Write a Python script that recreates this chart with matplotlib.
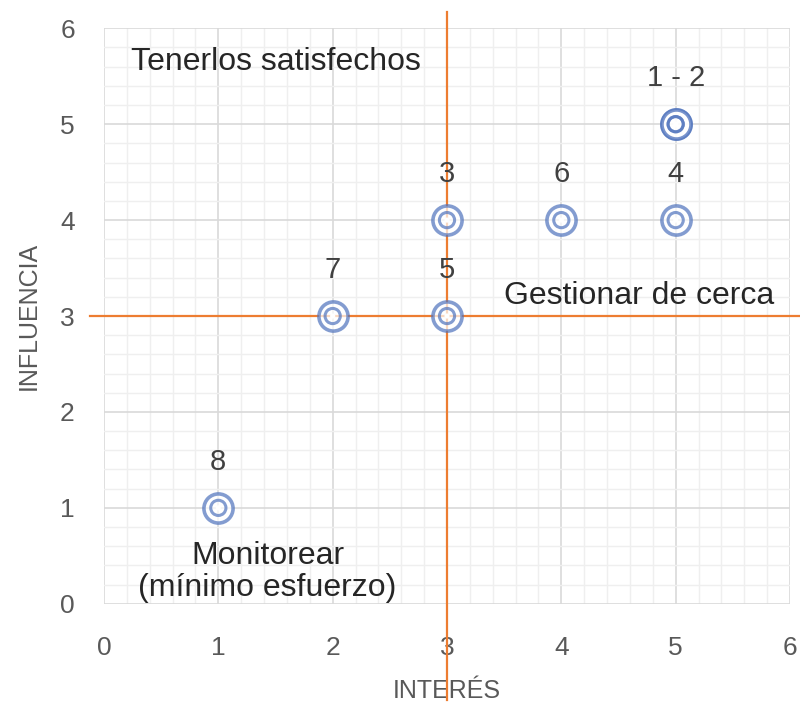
import matplotlib
matplotlib.use("Agg")
import matplotlib.pyplot as plt
from matplotlib.ticker import MultipleLocator

# --- data ---
interes    = [5, 5, 3, 5, 3, 4, 2, 1]
influencia = [5, 5, 4, 4, 3, 4, 3, 1]
# point labels (1 and 2 share a spot, so one combined label)
lbl_x = [5, 3, 5, 3, 4, 2, 1]
lbl_y = [5, 4, 4, 3, 4, 3, 1]
lbl_t = ["1 - 2", "3", "4", "5", "6", "7", "8"]

quad_t = ["Tenerlos satisfechos", "Gestionar de cerca", "Monitorear\n(mínimo esfuerzo)"]
quad_x = [1.5, 4.68, 1.43]
quad_y = [5.65, 3.21, 0.33]

MID = 3
BLUE = "#4f73bd"
ORANGE = "#ed7d31"

plt.rcParams["font.family"] = ["Liberation Sans", "DejaVu Sans"]

fig = plt.figure(figsize=(8.0, 7.07), dpi=100)
ax = fig.add_axes([0.13, 0.146, 0.8575, 0.814])

ax.set_xlim(0, 6)
ax.set_ylim(0, 6)
ax.xaxis.set_major_locator(MultipleLocator(1))
ax.yaxis.set_major_locator(MultipleLocator(1))
ax.xaxis.set_minor_locator(MultipleLocator(0.2))
ax.yaxis.set_minor_locator(MultipleLocator(0.2))
ax.grid(True, which="major", color="#d9d9d9", lw=1.2, zorder=0)
ax.grid(True, which="minor", color="#efefef", lw=1.0, zorder=0)
ax.tick_params(which="both", length=0, labelsize=19, labelcolor="#595959")
ax.tick_params(axis="x", pad=23)
ax.tick_params(axis="y", pad=21)
for s in ax.spines.values():
    s.set_visible(False)
ax.set_axisbelow(True)

# quadrant dividers, they run past the plot area
ax.plot([MID, MID], [-1.0, 6.17], color=ORANGE, lw=1.6, clip_on=False, zorder=2)
ax.plot([-0.12, 6.1], [MID, MID], color=ORANGE, lw=1.6, clip_on=False, zorder=2)

# double-ring markers
ax.scatter(interes, influencia, s=440, facecolor="white", edgecolor=BLUE,
           linewidth=2.6, alpha=0.7, zorder=3)
ax.scatter(interes, influencia, s=120, facecolor="none", edgecolor=BLUE,
           linewidth=2.2, alpha=0.7, zorder=4)
ax.scatter(interes, influencia, s=14, facecolor="white", edgecolor="none", zorder=5)

for x, y, t in zip(lbl_x, lbl_y, lbl_t):
    ax.text(x, y + 0.48, t, ha="center", va="center", fontsize=21, color="#404040")

for x, y, t in zip(quad_x, quad_y, quad_t):
    ax.text(x, y, t, ha="center", va="center", fontsize=23, color="#262626",
            linespacing=1.1)

ax.set_xlabel("INTERÉS", fontsize=18, color="#595959", va="center")
ax.set_ylabel("INFLUENCIA", fontsize=18, color="#595959", va="center")
ax.xaxis.set_label_coords(0.5, -0.152)
ax.yaxis.set_label_coords(-0.11, 0.5)

fig.savefig("out.png", dpi=100)
